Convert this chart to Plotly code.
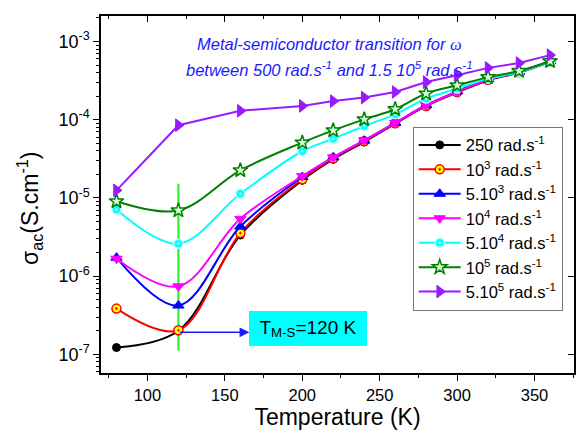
import math
import plotly.graph_objects as go

# Temperature grid (K)
temperature = [80, 120, 160, 200, 220, 240, 260, 280, 300, 320, 340, 360]

# AC conductivity (S/cm) for each angular frequency
sigma_250 = [1.22e-7, 2.0e-7, 3.35e-6, 1.68e-5, 3.12e-5, 5.2e-5, 8.9e-5, 1.5e-4, 2.22e-4, 3.2e-4, 4.0e-4, 5.5e-4]
sigma_1e3 = [3.84e-7, 2.03e-7, 3.55e-6, 1.73e-5, 3.2e-5, 5.3e-5, 9.0e-5, 1.5e-4, 2.25e-4, 3.25e-4, 4.05e-4, 5.5e-4]
sigma_5e3 = [1.72e-6, 4.2e-7, 4.3e-6, 1.85e-5, 3.3e-5, 5.4e-5, 9.1e-5, 1.53e-4, 2.3e-4, 3.3e-4, 4.1e-4, 5.6e-4]
sigma_1e4 = [1.67e-6, 7.4e-7, 5.4e-6, 1.9e-5, 3.3e-5, 5.45e-5, 9.1e-5, 1.53e-4, 2.26e-4, 3.26e-4, 4.07e-4, 5.6e-4]
sigma_5e4 = [7.1e-6, 2.6e-6, 1.13e-5, 3.95e-5, 5.7e-5, 8.3e-5, 1.17e-4, 1.86e-4, 2.5e-4, 3.35e-4, 4.07e-4, 5.5e-4]
sigma_1e5 = [9.05e-6, 6.9e-6, 2.25e-5, 5.1e-5, 7.3e-5, 1.01e-4, 1.36e-4, 2.16e-4, 2.75e-4, 3.5e-4, 4.2e-4, 5.6e-4]
sigma_5e5 = [1.25e-5, 8.5e-5, 1.3e-4, 1.5e-4, 1.73e-4, 1.92e-4, 2.26e-4, 3.03e-4, 3.7e-4, 4.6e-4, 5.3e-4, 6.7e-4]

series_names = [
    "250 rad.s<sup>-1</sup>",
    "10<sup>3</sup> rad.s<sup>-1</sup>",
    "5.10<sup>3</sup> rad.s<sup>-1</sup>",
    "10<sup>4</sup> rad.s<sup>-1</sup>",
    "5.10<sup>4</sup> rad.s<sup>-1</sup>",
    "10<sup>5</sup> rad.s<sup>-1</sup>",
    "5.10<sup>5</sup> rad.s<sup>-1</sup>",
]

# Transition temperature marker
t_transition = 120
transition_span = [1.12e-7, 1.52e-5]
transition_level = 2.0e-7

x_ticks = [100, 150, 200, 250, 300, 350]
x_minor = [75, 125, 175, 225, 275, 325, 375]
y_ticks = [1e-7, 1e-6, 1e-5, 1e-4, 1e-3]
y_ticktext = ["10<sup>-7</sup>", "10<sup>-6</sup>", "10<sup>-5</sup>", "10<sup>-4</sup>", "10<sup>-3</sup>"]
y_minor = [m * 10.0 ** e for e in range(-8, -2) for m in range(2, 10)]

FONT = "Liberation Sans, Arial, sans-serif"

styles = [
    dict(color="#000000", symbol="circle", fill="#000000", edge="#000000", lw=1, size=8, shape="spline"),
    dict(color="#ff0000", symbol="circle-dot", fill="#ffff00", edge="#ff0000", lw=1.5, size=9, shape="spline"),
    dict(color="#0000ff", symbol="triangle-up", fill="#0000ff", edge="#0000ff", lw=1, size=10, shape="spline"),
    dict(color="#ff00ff", symbol="triangle-down", fill="#ff00ff", edge="#ff00ff", lw=1, size=10, shape="spline"),
    dict(color="#00ffff", symbol="circle-dot", fill="#00ffff", edge="#b0ffff", lw=1.5, size=9, shape="spline"),
    dict(color="#008000", symbol="star", fill="#d8ffd8", edge="#008000", lw=1.5, size=11, shape="spline"),
    dict(color="#9a1aff", symbol="triangle-right", fill="#9a1aff", edge="#9a1aff", lw=1, size=11, shape="linear"),
]
series = [sigma_250, sigma_1e3, sigma_5e3, sigma_1e4, sigma_5e4, sigma_1e5, sigma_5e5]

fig = go.Figure()

# Vertical line marking the transition temperature
fig.add_trace(go.Scatter(
    x=[t_transition, t_transition], y=transition_span, mode="lines",
    line=dict(color="#22ee22", width=2), showlegend=False, hoverinfo="skip",
))

for name, vals, st in zip(series_names, series, styles):
    fig.add_trace(go.Scatter(
        x=temperature, y=vals, name=name, mode="lines+markers",
        line=dict(color=st["color"], width=2, shape=st["shape"], smoothing=1.0),
        marker=dict(symbol=st["symbol"], size=st["size"], color=st["fill"],
                    line=dict(color=st["edge"], width=st["lw"])),
    ))

# Empty trace so the mirrored top/right axes are rendered
fig.add_trace(go.Scatter(x=[], y=[], xaxis="x2", yaxis="y2", showlegend=False))

x_range = [70, 375.5]
y_range = [-7.239, -2.674]

fig.update_layout(
    width=576, height=434,
    margin=dict(l=101, r=0, t=16, b=61),
    paper_bgcolor="white", plot_bgcolor="white",
    font=dict(family=FONT, color="black"),
    showlegend=True,
    legend=dict(
        x=0.659, y=0.69, xanchor="left", yanchor="top",
        bgcolor="white", bordercolor="#777777", borderwidth=1,
        font=dict(size=16.5, family=FONT), itemwidth=42, tracegroupgap=0,
    ),
    xaxis=dict(
        range=x_range, showgrid=False, zeroline=False,
        showline=True, linecolor="black", linewidth=1.5, mirror=True,
        ticks="outside", ticklen=6, tickwidth=1.2, tickcolor="black",
        tickvals=x_ticks, tickfont=dict(size=16.5),
        minor=dict(tickvals=x_minor, ticks="outside", ticklen=3, tickcolor="black", showgrid=False),
        title=dict(text="Temperature (K)", font=dict(size=23), standoff=6),
    ),
    yaxis=dict(
        type="log", range=y_range, showgrid=False, zeroline=False,
        showline=True, linecolor="black", linewidth=1.5, mirror=True,
        ticks="outside", ticklen=6, tickwidth=1.2, tickcolor="black",
        tickvals=y_ticks, ticktext=y_ticktext, tickfont=dict(size=18),
        minor=dict(tickvals=y_minor, ticks="outside", ticklen=3, tickcolor="black", showgrid=False),
    ),
    xaxis2=dict(
        overlaying="x", side="top", anchor="y", range=x_range, showgrid=False, zeroline=False,
        showline=False, ticks="inside", ticklen=6, tickcolor="black",
        tickvals=x_ticks, showticklabels=False,
        minor=dict(tickvals=x_minor, ticks="inside", ticklen=3, tickcolor="black"),
    ),
    yaxis2=dict(
        overlaying="y", side="right", anchor="x", type="log", range=y_range, showgrid=False,
        zeroline=False, showline=False, ticks="inside", ticklen=6, tickcolor="black",
        tickvals=y_ticks, showticklabels=False,
    ),
)

# Y-axis title
fig.add_annotation(
    xref="paper", yref="paper", x=-0.152, y=0.46, xanchor="center", yanchor="middle",
    textangle=-90, showarrow=False,
    text="σ<sub>ac</sub>(S.cm<sup>-1</sup>)", font=dict(size=23, color="black"),
)

# Header text
fig.add_annotation(
    xref="paper", yref="paper", x=0.484, y=0.952, showarrow=False,
    text="<i>Metal-semiconductor transition for </i><span style=\"font-family:'Liberation Serif'\"><i>ω</i></span>",
    font=dict(size=16.5, color="#1a1aff"),
)
fig.add_annotation(
    xref="paper", yref="paper", x=0.483, y=0.885, showarrow=False,
    text="<i>between 500 rad.s<sup>-1</sup> and 1.5 10<sup>5</sup> rad.s<sup>-1</sup></i>",
    font=dict(size=16.5, color="#1a1aff"),
)

# Arrow from the transition point to the label box
fig.add_annotation(
    x=165.8, y=math.log10(transition_level) - 0.02, xref="x", yref="y",
    ax=t_transition, ay=math.log10(transition_level) - 0.02, axref="x", ayref="y",
    text="", showarrow=True, arrowhead=2, arrowsize=1.3, arrowwidth=1.5, arrowcolor="#1a1aff",
)
fig.add_annotation(
    xref="paper", yref="paper", x=0.3137, y=0.175, xanchor="left", yanchor="top",
    showarrow=False, text="T<sub>M-S</sub>=120 K",
    font=dict(size=19, color="black"),
    bgcolor="#00ffff", width=118, height=35, borderpad=0, borderwidth=0,
)

fig.write_html("out.html")
